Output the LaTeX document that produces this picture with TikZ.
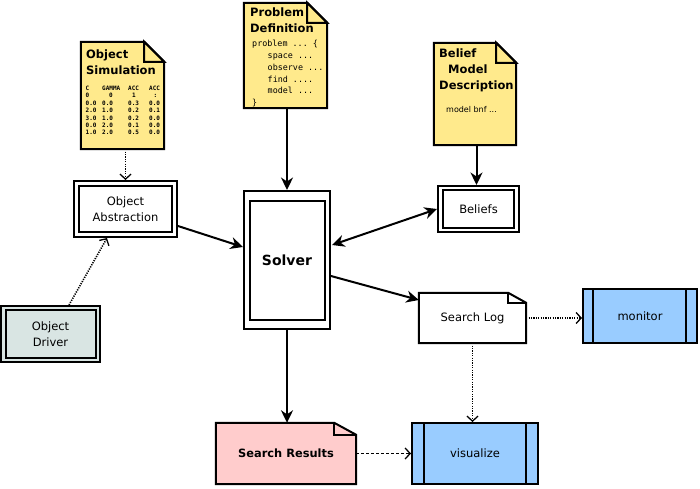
\documentclass[tikz,border=0pt]{standalone}
\usepackage{fontspec}
\setmainfont{DejaVu Sans}
\setsansfont{DejaVu Sans}
\setmonofont{DejaVu Sans Mono}
\usetikzlibrary{arrows.meta,calc}
\definecolor{notey}{RGB}{255,234,140}
\definecolor{pinkr}{RGB}{255,204,204}
\definecolor{bluep}{RGB}{153,204,255}
\definecolor{drivg}{RGB}{217,229,227}
\tikzset{
  lbl/.style={font=\fontsize{11.5}{15.5}\selectfont, align=center},
  boxo/.style={draw, line width=2pt, inner sep=0pt},
  dbl/.style={boxo, append after command={
     \pgfextra{\draw[line width=2pt] ([xshift=6pt,yshift=-6pt]\tikzlastnode.north west) rectangle ([xshift=-6pt,yshift=6pt]\tikzlastnode.south east);}}},
  ghost/.style={inner sep=0pt},
  notefill/.style={draw, line width=2pt, fill=notey, line join=miter},
  title/.style={anchor=north west, inner sep=0pt, font=\bfseries\fontsize{11.5}{16}\selectfont, align=left},
  arr/.style={line width=2pt, -{Stealth[length=12.5pt,width=12pt,inset=4pt]}},
  darr/.style={line width=2pt, {Stealth[length=12.5pt,width=12pt,inset=4pt]}-{Stealth[length=12.5pt,width=12pt,inset=4pt]}},
  dotarr/.style={line width=1.6pt, dash pattern=on 1.2pt off 1.2pt, -{Straight Barb[length=5pt,width=11pt,line width=1.3pt]}},
  dasharr/.style={line width=1.3pt, dash pattern=on 3pt off 2pt, -{Straight Barb[length=5pt,width=11pt,line width=1.3pt]}},
  tab/.style={anchor=north west, inner sep=0pt, font=\ttfamily\bfseries\fontsize{6}{7.4}\selectfont, align=left},
}
\begin{document}
\begin{tikzpicture}[x=1pt,y=-1pt]
\useasboundingbox (0,0) rectangle (700,488);

% ---------- notes ----------
\node[ghost, minimum width=83pt, minimum height=107pt] (sim) at (122.5,95.5) {};
\draw[notefill] (sim.north west) -- ([xshift=-20pt]sim.north east) -- ([yshift=-20pt]sim.north east) -- (sim.south east) -- (sim.south west) -- cycle;
\draw[notefill] ([xshift=-20pt]sim.north east) -- ([xshift=-20pt,yshift=-20pt]sim.north east) -- ([yshift=-20pt]sim.north east) -- cycle;
\node[title] (simt) at (86,49.3) {Object\\Simulation};
\begin{scope}
\clip (sim.south west) rectangle ([xshift=-5pt]sim.north east);
\node[tab] (c1) at (85.5,85.8) {C\\0\\0.0\\2.0\\3.0\\0.0\\1.0};
\node[tab] (c2) at (102,85.8) {GAMMA\\\hspace*{7pt}0\\0.0\\1.0\\1.0\\2.0\\2.0};
\node[tab] (c3) at (128,85.8) {ACC\\\hspace*{4pt}1\\0.3\\0.2\\0.2\\0.1\\0.5};
\node[tab] (c4) at (149,85.8) {ACC\\\hspace*{4.5pt}:\\0.02\\0.16\\0.02\\0.03\\0.05};
\end{scope}

\node[ghost, minimum width=83pt, minimum height=105pt] (pd) at (285.5,55.5) {};
\draw[notefill] (pd.north west) -- ([xshift=-20pt]pd.north east) -- ([yshift=-20pt]pd.north east) -- (pd.south east) -- (pd.south west) -- cycle;
\draw[notefill] ([xshift=-20pt]pd.north east) -- ([xshift=-20pt,yshift=-20pt]pd.north east) -- ([yshift=-20pt]pd.north east) -- cycle;
\node[title] (pdt) at (250,7.3) {Problem\\Definition};
\node[anchor=north west, inner sep=0pt, font=\ttfamily\fontsize{8.4}{11.8}\selectfont, align=left] (pdc) at (252,40)
  {problem ... \{\\\hspace*{15.5pt}space ...\\\hspace*{15.5pt}observe ...\\\hspace*{15.5pt}find ....\\\hspace*{15.5pt}model ...\\\}};

\node[ghost, minimum width=82pt, minimum height=102pt] (bm) at (475,94) {};
\draw[notefill] (bm.north west) -- ([xshift=-20pt]bm.north east) -- ([yshift=-20pt]bm.north east) -- (bm.south east) -- (bm.south west) -- cycle;
\draw[notefill] ([xshift=-20pt]bm.north east) -- ([xshift=-20pt,yshift=-20pt]bm.north east) -- ([yshift=-20pt]bm.north east) -- cycle;
\node[title] (bmt) at (439,48.3) {Belief\\\hspace*{9pt}Model\\Description};
\node[anchor=base west, inner sep=0pt, font=\fontsize{8}{10}\selectfont] (bmc) at (446,112) {model bnf ...};

% ---------- boxes ----------
\node[dbl, lbl, minimum width=103pt, minimum height=56pt] (oa) at (125.5,209) {Object\\Abstraction};
\node[boxo, fill=drivg, lbl, minimum width=99pt, minimum height=56pt] (od) at (50.5,334) {Object\\Driver};
\draw[line width=2pt] ([xshift=5.5pt,yshift=-5pt]od.north west) rectangle ([xshift=-5.5pt,yshift=5pt]od.south east);
\node[boxo, minimum width=86pt, minimum height=138pt] (solver) at (287,260) {};
\draw[line width=2pt] ([xshift=7pt,yshift=-11pt]solver.north west) rectangle ([xshift=-6pt,yshift=10pt]solver.south east);
\node[font=\bfseries\fontsize{14}{16}\selectfont] (solvert) at (solver.center) {Solver};
\node[boxo, lbl, minimum width=81pt, minimum height=46pt] (beliefs) at (478.5,209) {Beliefs};
\draw[line width=2pt] ([xshift=6pt,yshift=-5pt]beliefs.north west) rectangle ([xshift=-6pt,yshift=5pt]beliefs.south east);

\node[ghost, lbl, minimum width=107pt, minimum height=50pt] (sl) at (472.5,318) {Search Log};
\draw[line width=2pt, fill=white] (sl.north west) -- ([xshift=-18pt]sl.north east) -- ([yshift=-10pt]sl.north east) -- (sl.south east) -- (sl.south west) -- cycle;
\draw[line width=2pt] ([xshift=-18pt]sl.north east) -- ([xshift=-18pt,yshift=-10pt]sl.north east) -- ([yshift=-10pt]sl.north east);
\node[lbl] at (sl.center) {Search Log};

\node[ghost, minimum width=140pt, minimum height=61pt] (sr) at (286,453.5) {};
\draw[line width=2pt, fill=pinkr] (sr.north west) -- ([xshift=-22pt]sr.north east) -- ([yshift=-12pt]sr.north east) -- (sr.south east) -- (sr.south west) -- cycle;
\draw[line width=2pt] ([xshift=-22pt]sr.north east) -- ([xshift=-22pt,yshift=-12pt]sr.north east) -- ([yshift=-12pt]sr.north east);
\node[font=\bfseries\fontsize{11.4}{13}\selectfont] (srt) at (sr.center) {Search Results};

\node[boxo, fill=bluep, lbl, minimum width=114pt, minimum height=54pt] (mon) at (640,316) {monitor};
\draw[line width=2pt] ([xshift=11pt]mon.north west) -- ([xshift=11pt]mon.south west);
\draw[line width=2pt] ([xshift=-12pt]mon.north east) -- ([xshift=-12pt]mon.south east);

\node[boxo, fill=bluep, lbl, minimum width=126pt, minimum height=61pt] (vis) at (475,453.5) {visualize};
\draw[line width=2pt] ([xshift=13pt]vis.north west) -- ([xshift=13pt]vis.south west);
\draw[line width=2pt] ([xshift=-13pt]vis.north east) -- ([xshift=-13pt]vis.south east);

% ---------- connectors ----------
\draw[dotarr] (sim.south -| oa.north) -- (oa.north);
\draw[arr] (pd.south -| solver.north) -- (solver.north);
\draw[arr] ([xshift=1.5pt]bm.south) -- ([xshift=1.5pt]bm.south |- beliefs.north);
\draw[arr] ([yshift=-17pt]oa.east) -- ([yshift=13pt]solver.west);
\draw[dotarr] ([xshift=18.5pt]od.north) -- ([xshift=-18.5pt]oa.south);
\draw[darr] ([xshift=1pt,yshift=15pt]solver.east) -- (beliefs.west);
\draw[arr] ([yshift=-16pt]solver.east) -- ([yshift=18pt]sl.west);
\draw[dotarr] (sl.east) -- (sl.east -| mon.west);
\draw[dotarr] (sl.south) -- (sl.south |- vis.north);
\draw[dasharr] (sr.east) -- (vis.west);
\draw[arr] (solver.south) -- (solver.south |- sr.north);
\end{tikzpicture}
\end{document}
